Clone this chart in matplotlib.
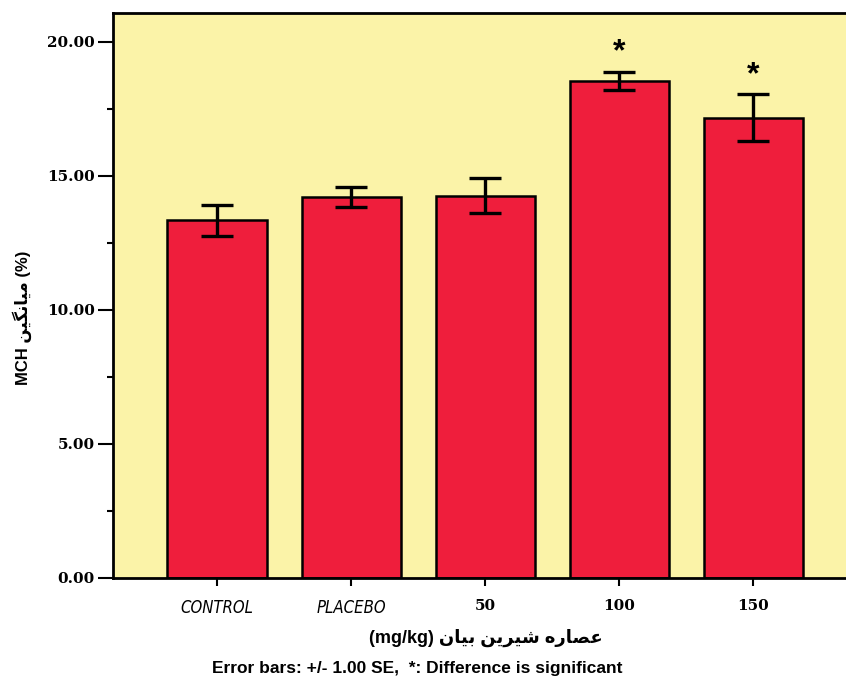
import numpy as np
import matplotlib.pyplot as plt
from matplotlib.ticker import MultipleLocator, FormatStrFormatter

# data
groups = ['CONTROL', 'PLACEBO', '50', '100', '150']
means = [13.34, 14.22, 14.27, 18.54, 17.17]
se = [0.58, 0.37, 0.65, 0.35, 0.87]
significant = [False, False, False, True, True]

# arabic letter forms: isolated, final, initial, medial
FORMS = {
    'ا': ('\uFE8D', '\uFE8E', None, None),
    'ب': ('\uFE8F', '\uFE90', '\uFE91', '\uFE92'),
    'ر': ('\uFEAD', '\uFEAE', None, None),
    'ش': ('\uFEB5', '\uFEB6', '\uFEB7', '\uFEB8'),
    'ص': ('\uFEB9', '\uFEBA', '\uFEBB', '\uFEBC'),
    'ع': ('\uFEC9', '\uFECA', '\uFECB', '\uFECC'),
    'م': ('\uFEE1', '\uFEE2', '\uFEE3', '\uFEE4'),
    'ن': ('\uFEE5', '\uFEE6', '\uFEE7', '\uFEE8'),
    'ه': ('\uFEE9', '\uFEEA', '\uFEEB', '\uFEEC'),
    'ی': ('\uFBFC', '\uFBFD', '\uFEF3', '\uFEF4'),
    'گ': ('\uFB92', '\uFB93', '\uFB94', '\uFB95'),
}


def shape(word):
    # pick joined forms by hand and reverse, matplotlib does no shaping/bidi
    out = []
    n = len(word)
    for i, ch in enumerate(word):
        f = FORMS[ch]
        prev = i > 0 and FORMS[word[i - 1]][2] is not None
        nxt = i < n - 1 and f[2] is not None
        if prev and nxt:
            g = f[3]
        elif nxt:
            g = f[2]
        elif prev:
            g = f[1]
        else:
            g = f[0]
        out.append(g)
    return ''.join(out[::-1])


def rtl(words):
    return ' '.join(shape(w) for w in words[::-1])


xlabel = '(mg/kg) ' + rtl(['عصاره', 'شیرین', 'بیان'])
ylabel = 'MCH ' + rtl(['میانگین']) + ' (%)'
footer = 'Error bars: +/- 1.00 SE,  *: Difference is significant'

fig = plt.figure(figsize=(8.46, 6.84), dpi=100)
ax = fig.add_axes([0.1336, 0.155, 0.8664, 0.826])
ax.set_facecolor('#FBF3A8')

x = np.arange(len(groups))
ax.bar(x, means, width=0.74, color='#EF1E3C', edgecolor='black', linewidth=1.8, zorder=2)
ax.errorbar(x, means, yerr=se, fmt='none', ecolor='black', elinewidth=2.4,
            capsize=11.5, capthick=2.4, zorder=3)

for xi, m, s, sig in zip(x, means, se, significant):
    if sig:
        ax.annotate('*', (xi, m + s), xytext=(0, 3), textcoords='offset points',
                    ha='center', va='bottom', fontsize=23, fontweight='bold',
                    family='Liberation Sans')

ax.set_xlim(-0.776, 4.69)
ax.set_ylim(0, 21.08)
ax.yaxis.set_major_locator(MultipleLocator(5))
ax.yaxis.set_minor_locator(MultipleLocator(2.5))
ax.yaxis.set_major_formatter(FormatStrFormatter('%.2f'))

for side in ['left', 'bottom', 'top']:
    ax.spines[side].set_linewidth(2)
ax.spines['right'].set_visible(False)

ax.tick_params(axis='y', which='major', length=11, width=1.5, pad=2)
ax.tick_params(axis='y', which='minor', length=4.5, width=1.5)
ax.tick_params(axis='x', length=6, width=1.5, pad=9)

ax.set_xticks(x)
ax.set_xticklabels(groups)
for lab in ax.get_yticklabels():
    lab.set_family('DejaVu Serif')
    lab.set_fontweight('bold')
    lab.set_fontsize(11)
for i, lab in enumerate(ax.get_xticklabels()):
    if i < 2:
        lab.set_family('DejaVu Sans')
        lab.set_fontstretch('condensed')
        lab.set_fontstyle('oblique')
        lab.set_fontsize(12)
    else:
        lab.set_family('DejaVu Serif')
        lab.set_fontweight('bold')
        lab.set_fontsize(11)

fig.text(0.5745, 0.067, xlabel, ha='center', va='center', fontsize=13,
         fontweight='bold', family=['Liberation Sans', 'DejaVu Sans'])
fig.text(0.026, 0.535, ylabel, ha='center', va='center', rotation=90, fontsize=12,
         fontweight='bold', family=['Liberation Sans', 'DejaVu Sans'])
fig.text(0.493, 0.023, footer, ha='center', va='center', fontsize=12.5,
         fontweight='bold', family='Liberation Sans')

fig.savefig('out.png', dpi=100)
